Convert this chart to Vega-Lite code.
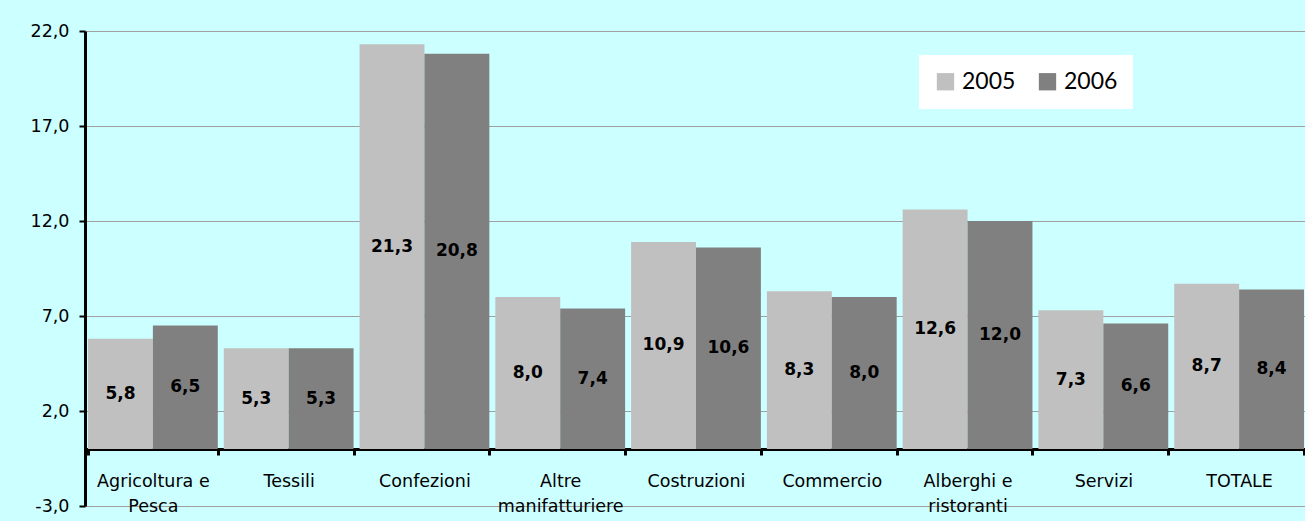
{
  "$schema": "https://vega.github.io/schema/vega-lite/v6.json",
  "width": 1222,
  "height": 475,
  "autosize": {"type": "none"},
  "padding": {"left": 85, "top": 31, "right": 0, "bottom": 15},
  "background": "#CCFFFF",
  "config": {
    "view": {"stroke": null},
    "locale": {"number": {"decimal": ",", "thousands": ".", "grouping": [3], "currency": ["", " €"], "minus": "-"}},
    "font": "DejaVu Sans"
  },
  "data": {
    "values": [
      {"settore": "Agricoltura e Pesca", "anno": "2005", "v": 5.8},
      {"settore": "Agricoltura e Pesca", "anno": "2006", "v": 6.5},
      {"settore": "Tessili", "anno": "2005", "v": 5.3},
      {"settore": "Tessili", "anno": "2006", "v": 5.3},
      {"settore": "Confezioni", "anno": "2005", "v": 21.3},
      {"settore": "Confezioni", "anno": "2006", "v": 20.8},
      {"settore": "Altre manifatturiere", "anno": "2005", "v": 8.0},
      {"settore": "Altre manifatturiere", "anno": "2006", "v": 7.4},
      {"settore": "Costruzioni", "anno": "2005", "v": 10.9},
      {"settore": "Costruzioni", "anno": "2006", "v": 10.6},
      {"settore": "Commercio", "anno": "2005", "v": 8.3},
      {"settore": "Commercio", "anno": "2006", "v": 8.0},
      {"settore": "Alberghi e ristoranti", "anno": "2005", "v": 12.6},
      {"settore": "Alberghi e ristoranti", "anno": "2006", "v": 12.0},
      {"settore": "Servizi", "anno": "2005", "v": 7.3},
      {"settore": "Servizi", "anno": "2006", "v": 6.6},
      {"settore": "TOTALE", "anno": "2005", "v": 8.7},
      {"settore": "TOTALE", "anno": "2006", "v": 8.4}
    ]
  },
  "encoding": {
    "x": {
      "field": "settore",
      "type": "nominal",
      "sort": null,
      "scale": {"paddingInner": 0.044, "paddingOuter": 0.022},
      "axis": {
        "title": null,
        "orient": "bottom",
        "offset": -57,
        "domainColor": "black",
        "domainWidth": 3,
        "tickColor": "black",
        "tickWidth": 3,
        "tickSize": 6,
        "tickBand": "extent",
        "labelAngle": 0,
        "labelFont": "DejaVu Sans",
        "labelFontSize": 17.5,
        "labelColor": "black",
        "labelPadding": 17,
        "labelBaseline": "top",
        "labelLineHeight": 25,
        "labelExpr": "datum.label == 'Agricoltura e Pesca' ? ['Agricoltura e', 'Pesca'] : datum.label == 'Altre manifatturiere' ? ['Altre', 'manifatturiere'] : datum.label == 'Alberghi e ristoranti' ? ['Alberghi e', 'ristoranti'] : datum.label",
        "grid": false
      }
    },
    "xOffset": {"field": "anno", "type": "nominal", "scale": {"paddingInner": 0, "paddingOuter": 0}}
  },
  "layer": [
    {
      "mark": {"type": "bar"},
      "encoding": {
        "y": {
          "field": "v",
          "type": "quantitative",
          "scale": {"domain": [-3, 22], "nice": false, "zero": false},
          "axis": {
            "title": null,
            "values": [-3, 2, 7, 12, 17, 22],
            "format": ".1f",
            "domainColor": "black",
            "domainWidth": 3,
            "tickColor": "black",
            "tickWidth": 2,
            "tickSize": 6,
            "labelFont": "DejaVu Sans",
            "labelFontSize": 17.5,
            "labelColor": "black",
            "labelPadding": 10,
            "gridColor": "#A0A0A0",
            "gridWidth": 1
          }
        },
        "color": {
          "field": "anno",
          "type": "nominal",
          "scale": {"domain": ["2005", "2006"], "range": ["#C0C0C0", "#808080"]},
          "legend": {
            "title": null,
            "orient": "none",
            "legendX": 834,
            "legendY": 24,
            "direction": "horizontal",
            "fillColor": "white",
            "padding": 15,
            "symbolType": "square",
            "symbolSize": 300,
            "symbolStrokeWidth": 0,
            "symbolOpacity": 1,
            "labelFont": "Lato",
            "labelFontSize": 23,
            "labelColor": "black",
            "labelOffset": 5,
            "columnPadding": 20
          }
        }
      }
    },
    {
      "transform": [{"calculate": "datum.v / 2", "as": "mid"}],
      "mark": {"type": "text", "font": "DejaVu Sans", "fontWeight": "bold", "fontSize": 17, "color": "black", "baseline": "middle"},
      "encoding": {
        "y": {"field": "mid", "type": "quantitative"},
        "text": {"field": "v", "type": "quantitative", "format": ".1f"}
      }
    }
  ]
}
